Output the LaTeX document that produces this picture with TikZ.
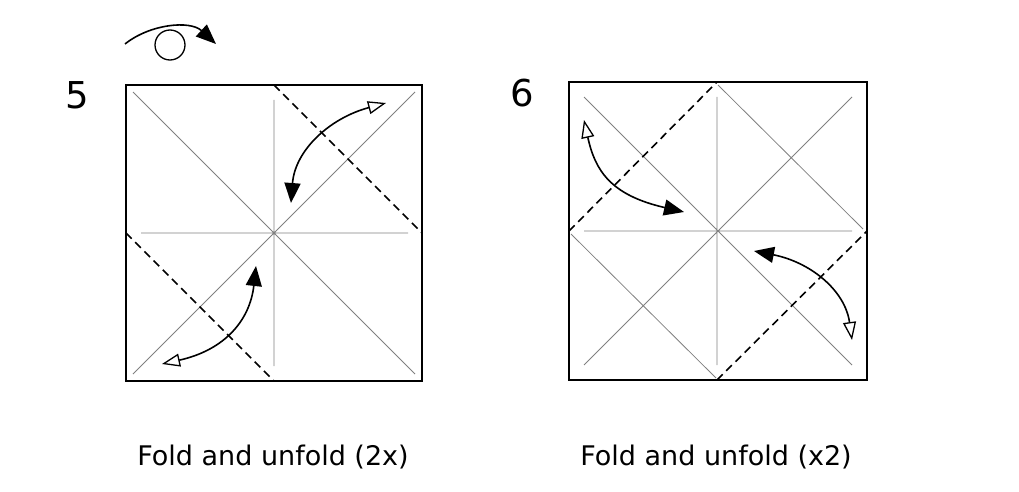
\documentclass[tikz,border=0pt]{standalone}
\usepackage{fontspec}
\setmainfont{DejaVu Sans}
\usetikzlibrary{arrows.meta}
\begin{document}
\begin{tikzpicture}[x=1pt,y=-1pt,
  crease/.style={gray,line width=0.8pt},
  edge/.style={black,line width=1.1pt},
  fold/.style={black,line width=1.6pt,dash pattern=on 8pt off 5pt},
  mv/.style={black,line width=1.6pt,{Triangle[open,length=18pt,width=13pt,line width=1.3pt]}-{Triangle[length=20pt,width=16pt]}},
  lbl/.style={font=\fontsize{27}{30}\selectfont},
  num/.style={font=\fontsize{37}{40}\selectfont}]
\useasboundingbox (0,0) rectangle (1019,492);
% square 5
\draw[edge] (126,85) rectangle (422,381);
\draw[crease] (133,92) -- (415,374) (415,92) -- (133,374) (274,100) -- (274,366) (141,233) -- (408,233);
\draw[fold] (274,85) -- (422,233);
\draw[fold] (126,233) -- (274,381);
\coordinate (a1) at (386,103); \coordinate (b1) at (291,203);
\draw[mv] (a1) .. controls (330,118) and (295,150) .. (b1);
\coordinate (a2) at (162,364); \coordinate (b2) at (256,266);
\draw[mv] (a2) .. controls (225,350) and (250,320) .. (b2);
\node[num] (n5) at (77,95) {5};
% rotate icon
\draw[line width=1.3pt] (170,45) circle (15);
\coordinate (r0) at (125,44); \coordinate (r1) at (216,44);
\draw[line width=1.6pt,-{Triangle[length=20pt,width=16pt]}] (r0) .. controls (150,24) and (190,20) .. (r1);
% square 6
\draw[edge] (569,82) rectangle (867,380);
\draw[crease] (584,97) -- (852,365) (852,97) -- (584,365) (717,97) -- (717,365) (584,231) -- (852,231)
  (718,85) -- (863,229) (571,234) -- (716,378);
\draw[fold] (569,231) -- (717,82);
\draw[fold] (717,380) -- (867,231);
\coordinate (c1) at (584,120); \coordinate (d1) at (684,212);
\draw[mv] (c1) .. controls (595,170) and (610,195) .. (d1);
\coordinate (c2) at (852,340); \coordinate (d2) at (754,251);
\draw[mv] (c2) .. controls (845,290) and (810,262) .. (d2);
\node[num] (n6) at (522,93) {6};
\node[lbl] (t5) at (273,457) {Fold and unfold (2x)};
\node[lbl] (t6) at (716,457) {Fold and unfold (x2)};
\end{tikzpicture}
\end{document}
